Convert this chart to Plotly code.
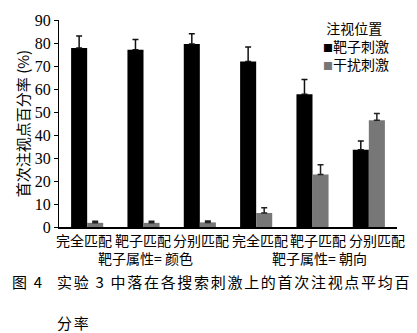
import plotly.graph_objects as go

categories = ["完全匹配", "靶子匹配", "分别匹配", "完全匹配", "靶子匹配", "分别匹配"]
group_labels = ["靶子属性= 颜色", "靶子属性= 朝向"]
target_vals = [77.8, 77.1, 79.6, 72.0, 57.7, 33.6]
target_err = [5.2, 4.4, 4.4, 6.3, 6.4, 3.8]
distract_vals = [1.8, 1.8, 2.0, 6.1, 22.8, 46.4]
distract_err = [0.7, 0.7, 0.6, 2.3, 4.3, 2.9]
series_names = ["靶子刺激", "干扰刺激"]
series_colors = ["#000000", "#777777"]
legend_title = "注视位置"
y_title = "首次注视点百分率 (%)"
caption_fig = "图\u00a0\u00a04"
caption_line1 = "实验 3 中落在各搜索刺激上的首次注视点平均百"
caption_line2 = "分率"

xs = list(range(len(categories)))
CJK = "Noto Sans CJK SC"
SERIF = "Liberation Serif"

fig = go.Figure()
fig.add_trace(go.Bar(
    x=xs, y=target_vals, name=series_names[0], marker=dict(color=series_colors[0], line=dict(width=0)),
    error_y=dict(type="data", array=target_err, arrayminus=[0] * 6, symmetric=False,
                 color="#111111", thickness=1.5, width=3),
    showlegend=False,
))
fig.add_trace(go.Bar(
    x=xs, y=distract_vals, name=series_names[1], marker=dict(color=series_colors[1], line=dict(width=0)),
    error_y=dict(type="data", array=distract_err, arrayminus=[0] * 6, symmetric=False,
                 color="#222222", thickness=1.5, width=3),
    showlegend=False,
))

L, R, T, B = 59, 20, 20, 106
W, H = 417, 333
pw = W - L - R
ph = H - T - B

def px(xpix):
    return (xpix - L) / pw

def py(ypix):
    return (H - B - ypix) / ph

ann = []
# category labels
for i, c in enumerate(categories):
    ann.append(dict(x=i, y=0, xref="x", yref="paper", text=c, showarrow=False,
                    xanchor="center", yanchor="middle", yshift=-13, xshift=-3 + 2.2 * i,
                    borderpad=0, font=dict(family=CJK, size=14, color="#000")))
# group labels
for gi, g in enumerate(group_labels):
    ann.append(dict(x=1 + 3 * gi, y=0, xref="x", yref="paper", text=g, showarrow=False,
                    xanchor="center", yanchor="middle", yshift=-31, xshift=2 + 5 * gi,
                    borderpad=0, font=dict(family=CJK, size=14, color="#000")))
# caption
ann.append(dict(x=px(10), y=0, xref="paper", yref="paper", text=caption_fig, showarrow=False,
                xanchor="left", yanchor="middle", yshift=-54,
                font=dict(family=CJK, size=15, color="#000")))
ann.append(dict(x=px(55), y=0, xref="paper", yref="paper",
                text="<span style='letter-spacing:1.7px'>" + caption_line1 + "</span>",
                showarrow=False, xanchor="left", yanchor="middle", yshift=-54,
                font=dict(family=CJK, size=15, color="#000")))
ann.append(dict(x=px(55), y=0, xref="paper", yref="paper",
                text="<span style='letter-spacing:1.7px'>" + caption_line2 + "</span>",
                showarrow=False, xanchor="left", yanchor="middle", yshift=-95,
                font=dict(family=CJK, size=15, color="#000")))
# legend (manual, single block with 18px line spacing)
legend_lines = ["\u00a0" + legend_title] + [
    "<span style='color:%s;font-size:10px'>■</span>%s" % (col, nm)
    for col, nm in zip(series_colors, series_names)
]
ann.append(dict(x=px(322), y=py(45.5), xref="paper", yref="paper",
                text="<br>".join(legend_lines), align="left",
                showarrow=False, xanchor="left", yanchor="middle", borderpad=0,
                font=dict(family=CJK, size=14, color="#000")))

fig.update_layout(
    width=W, height=H,
    margin=dict(l=L, r=R, t=T, b=B, pad=0),
    paper_bgcolor="white", plot_bgcolor="white",
    barmode="group", bargap=0.43, bargroupgap=0,
    showlegend=False,
    annotations=ann,
    xaxis=dict(range=[-0.5, 5.5], showticklabels=False, ticks="", showgrid=False,
               zeroline=False, showline=True, linecolor="#000", linewidth=1.5),
    yaxis=dict(range=[0, 90], dtick=10, tick0=0, ticks="outside", ticklen=4, tickwidth=1,
               tickcolor="#000", showgrid=False, zeroline=False, showline=True,
               linecolor="#000", linewidth=1.2,
               tickfont=dict(family=SERIF, size=16, color="#000"),
               title=dict(text=y_title, standoff=1,
                          font=dict(family=CJK, size=15, color="#000"))),
)

fig.write_html("out.html")
